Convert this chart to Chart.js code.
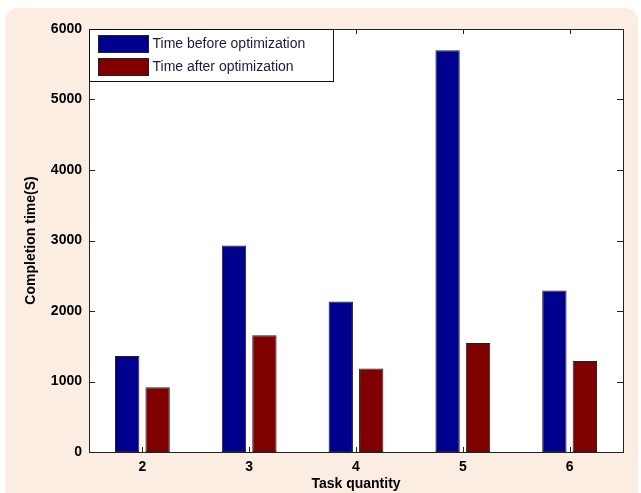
<!DOCTYPE html>
<html>
<head>
<meta charset="utf-8">
<script src="https://cdn.jsdelivr.net/npm/chart.js@4.4.1/dist/chart.umd.min.js"></script>
<style>
  html, body { margin: 0; padding: 0; background: #fff; }
  canvas { display: block; }
</style>
</head>
<body>
<canvas id="taskChart" width="641" height="493"></canvas>
<script>
    const categories = ['2', '3', '4', '5', '6'];
    const beforeTimes = [1360, 2930, 2135, 5700, 2290];
    const afterTimes = [920, 1655, 1185, 1545, 1290];
    const seriesLabels = ['Time before optimization', 'Time after optimization'];
    const seriesColors = ['#00008f', '#800000'];
    const yTicks = [0, 1000, 2000, 3000, 4000, 5000, 6000];

    const fontFamily = '"Liberation Sans", Arial, sans-serif';

    const framePlugin = {
        id: 'frame',
        beforeDraw(chart) {
            const { ctx, width, height, chartArea } = chart;
            ctx.save();
            ctx.fillStyle = '#ffffff';
            ctx.fillRect(0, 0, width, height);
            // beige panel behind the figure
            ctx.fillStyle = '#fcede3';
            ctx.beginPath();
            ctx.roundRect(5, 8, 633, height + 20, 13);
            ctx.fill();
            // white plot area
            ctx.fillStyle = '#ffffff';
            ctx.fillRect(chartArea.left, chartArea.top, chartArea.right - chartArea.left, chartArea.bottom - chartArea.top);
            ctx.restore();
        },
        afterDatasetsDraw(chart) {
            const { ctx, chartArea, scales } = chart;
            const { left, right, top, bottom } = chartArea;
            ctx.save();
            ctx.strokeStyle = '#222222';
            ctx.lineWidth = 1;
            ctx.beginPath();
            // inward ticks, MATLAB style
            scales.y.ticks.forEach((t, i) => {
                const y = Math.round(scales.y.getPixelForTick(i)) + 0.5;
                ctx.moveTo(left, y); ctx.lineTo(left + 6, y);
                ctx.moveTo(right, y); ctx.lineTo(right - 6, y);
            });
            scales.x.ticks.forEach((t, i) => {
                const x = Math.round(scales.x.getPixelForTick(i)) + 0.5;
                ctx.moveTo(x, bottom); ctx.lineTo(x, bottom - 5);
                ctx.moveTo(x, top); ctx.lineTo(x, top + 5);
            });
            ctx.stroke();
            ctx.strokeRect(Math.round(left) + 0.5, Math.round(top) + 0.5, Math.round(right - left), Math.round(bottom - top));
            ctx.restore();
        },
        afterDraw(chart) {
            const { ctx, chartArea } = chart;
            const x0 = Math.round(chartArea.left) + 0.5;
            const y0 = Math.round(chartArea.top) + 0.5;
            ctx.save();
            ctx.fillStyle = '#ffffff';
            ctx.fillRect(x0, y0, 244, 52);
            ctx.strokeStyle = '#111111';
            ctx.lineWidth = 1;
            ctx.strokeRect(x0, y0, 244, 52);
            ctx.font = `14px ${fontFamily}`;
            ctx.textBaseline = 'middle';
            chart.data.datasets.forEach((ds, i) => {
                const sy = y0 + 6 + i * 23;
                ctx.fillStyle = ds.backgroundColor;
                ctx.fillRect(x0 + 9, sy, 50, 17);
                ctx.strokeStyle = '#222222';
                ctx.strokeRect(x0 + 9, sy, 50, 17);
                ctx.fillStyle = '#1c1c3a';
                ctx.fillText(ds.label, x0 + 63, sy + 9);
            });
            ctx.restore();
        }
    };

    new Chart(document.getElementById('taskChart'), {
        type: 'bar',
        data: {
            labels: categories,
            datasets: [
                { label: seriesLabels[0], data: beforeTimes, backgroundColor: seriesColors[0] },
                { label: seriesLabels[1], data: afterTimes, backgroundColor: seriesColors[1] }
            ]
        },
        options: {
            responsive: false,
            animation: false,
            devicePixelRatio: 1,
            layout: { padding: { left: 0, top: 29, right: 18, bottom: 0 } },
            datasets: {
                bar: {
                    categoryPercentage: 0.57,
                    barPercentage: 0.8,
                    borderWidth: 1,
                    borderColor: '#222222',
                    borderSkipped: false
                }
            },
            plugins: { legend: { display: false }, tooltip: { enabled: false } },
            scales: {
                x: {
                    offset: true,
                    grid: { display: false, drawTicks: false },
                    border: { display: false },
                    ticks: {
                        padding: 7,
                        color: '#000',
                        font: { family: fontFamily, size: 14, weight: 'bold' }
                    },
                    title: {
                        display: true,
                        text: 'Task quantity',
                        color: '#000',
                        padding: { top: 0, bottom: 0 },
                        font: { family: fontFamily, size: 14, weight: 'bold' }
                    },
                    afterFit: (scale) => { scale.height = 41; }
                },
                y: {
                    min: 0,
                    max: 6000,
                    grid: { display: false, drawTicks: false },
                    border: { display: false },
                    afterBuildTicks: (scale) => { scale.ticks = yTicks.map((v) => ({ value: v })); },
                    ticks: {
                        padding: 7,
                        color: '#000',
                        callback: (value) => String(value),
                        font: { family: fontFamily, size: 14, weight: 'bold' }
                    },
                    title: {
                        display: true,
                        text: 'Completion time(S)',
                        color: '#000',
                        padding: { top: 23, bottom: 0 },
                        font: { family: fontFamily, size: 14, weight: 'bold' }
                    },
                    afterFit: (scale) => { scale.width = 89; }
                }
            }
        },
        plugins: [framePlugin]
    });
</script>
</body>
</html>
